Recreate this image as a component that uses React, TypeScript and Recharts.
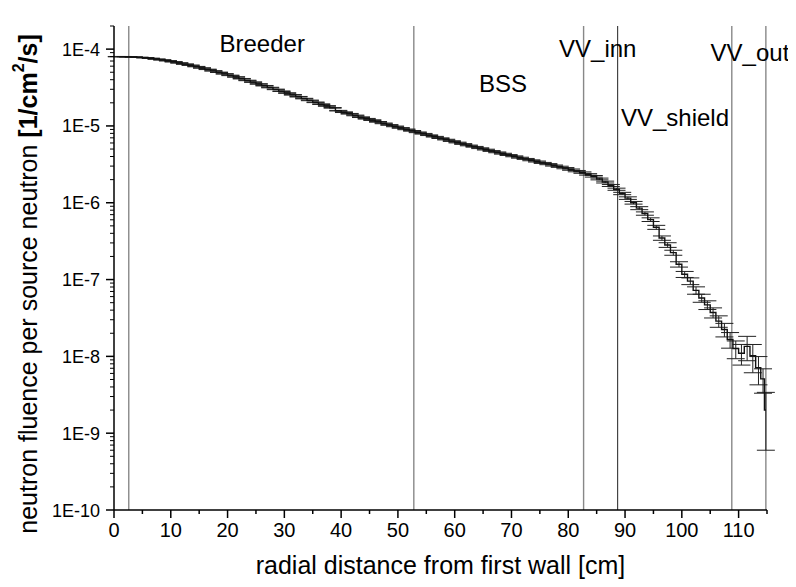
import { CartesianGrid, ErrorBar, Line, LineChart, ReferenceDot, ReferenceLine, XAxis, YAxis } from 'recharts';

// bin centres [cm] and fluence per source neutron [1/cm2/s]
const binCenters = [
  0.5, 1.5, 2.5, 3.5, 4.5, 5.5, 6.5, 7.5, 8.5, 9.5,
  10.5, 11.5, 12.5, 13.5, 14.5, 15.5, 16.5, 17.5, 18.5, 19.5,
  20.5, 21.5, 22.5, 23.5, 24.5, 25.5, 26.5, 27.5, 28.5, 29.5,
  30.5, 31.5, 32.5, 33.5, 34.5, 35.5, 36.5, 37.5, 38.5, 39.5,
  40.5, 41.5, 42.5, 43.5, 44.5, 45.5, 46.5, 47.5, 48.5, 49.5,
  50.5, 51.5, 52.5, 53.5, 54.5, 55.5, 56.5, 57.5, 58.5, 59.5,
  60.5, 61.5, 62.5, 63.5, 64.5, 65.5, 66.5, 67.5, 68.5, 69.5,
  70.5, 71.5, 72.5, 73.5, 74.5, 75.5, 76.5, 77.5, 78.5, 79.5,
  80.5, 81.5, 82.5, 83.5, 84.5, 85.5, 86.5, 87.5, 88.5, 89.5,
  90.5, 91.5, 92.5, 93.5, 94.5, 95.5, 96.5, 97.5, 98.5, 99.5,
  100.5, 101.5, 102.5, 103.5, 104.5, 105.5, 106.5, 107.5, 108.5, 109.5,
  110.5, 111.5, 112.5, 113.5, 114.3, 114.8,
];

const fluence = [
  7.98e-5, 7.98e-5, 7.94e-5, 7.89e-5, 7.82e-5, 7.71e-5, 7.59e-5, 7.41e-5, 7.24e-5, 7.05e-5,
  6.84e-5, 6.61e-5, 6.38e-5, 6.17e-5, 5.92e-5, 5.68e-5, 5.45e-5, 5.21e-5, 4.99e-5, 4.76e-5,
  4.55e-5, 4.34e-5, 4.12e-5, 3.91e-5, 3.72e-5, 3.52e-5, 3.34e-5, 3.16e-5, 2.99e-5, 2.83e-5,
  2.68e-5, 2.54e-5, 2.40e-5, 2.27e-5, 2.15e-5, 2.03e-5, 1.92e-5, 1.82e-5, 1.72e-5, 1.58e-5,
  1.51e-5, 1.44e-5, 1.37e-5, 1.30e-5, 1.24e-5, 1.19e-5, 1.13e-5, 1.08e-5, 1.03e-5, 9.86e-6,
  9.42e-6, 9.02e-6, 8.63e-6, 8.26e-6, 7.91e-6, 7.57e-6, 7.24e-6, 6.93e-6, 6.64e-6, 6.35e-6,
  6.08e-6, 5.82e-6, 5.57e-6, 5.35e-6, 5.13e-6, 4.92e-6, 4.72e-6, 4.53e-6, 4.35e-6, 4.18e-6,
  4.02e-6, 3.86e-6, 3.72e-6, 3.57e-6, 3.44e-6, 3.30e-6, 3.18e-6, 3.05e-6, 2.94e-6, 2.82e-6,
  2.70e-6, 2.58e-6, 2.47e-6, 2.34e-6, 2.21e-6, 2.04e-6, 1.86e-6, 1.68e-6, 1.50e-6, 1.32e-6,
  1.15e-6, 1.00e-6, 8.51e-7, 7.24e-7, 6.03e-7, 4.79e-7, 3.47e-7, 2.82e-7, 2.24e-7, 1.58e-7,
  1.17e-7, 9.55e-8, 7.24e-8, 5.75e-8, 4.68e-8, 3.72e-8, 2.88e-8, 2.24e-8, 1.66e-8, 1.26e-8,
  1.10e-8, 1.35e-8, 1.02e-8, 7.1e-9, 5.1e-9, 2.0e-9,
];

// relative statistical error of each bin
const relErr = [
  0.005, 0.005, 0.005, 0.005, 0.005, 0.005, 0.005, 0.005, 0.005, 0.005,
  0.005, 0.005, 0.005, 0.005, 0.006, 0.006, 0.006, 0.006, 0.006, 0.006,
  0.007, 0.007, 0.007, 0.007, 0.007, 0.007, 0.007, 0.008, 0.008, 0.008,
  0.008, 0.008, 0.008, 0.008, 0.009, 0.009, 0.009, 0.009, 0.009, 0.009,
  0.01, 0.01, 0.01, 0.01, 0.01, 0.01, 0.01, 0.01, 0.01, 0.01,
  0.01, 0.01, 0.01, 0.01, 0.01, 0.01, 0.01, 0.01, 0.01, 0.01,
  0.011, 0.011, 0.011, 0.011, 0.012, 0.012, 0.012, 0.012, 0.013, 0.013,
  0.013, 0.014, 0.014, 0.014, 0.015, 0.015, 0.016, 0.016, 0.017, 0.018,
  0.019, 0.02, 0.021, 0.022, 0.024, 0.026, 0.028, 0.03, 0.032, 0.035,
  0.038, 0.04, 0.045, 0.05, 0.055, 0.06, 0.065, 0.07, 0.075, 0.08,
  0.09, 0.1, 0.11, 0.12, 0.13, 0.15, 0.17, 0.2, 0.23, 0.26,
  0.3, 0.35, 0.4, 0.4, 0.35, 0.7,
];

// layer boundaries
const boundaries = [2.6, 52.8, 82.7, 88.7, 108.8, 114.8];
const boundaryColors = ['#888', '#888', '#888', '#222', '#888', '#888'];

const regionNames = ['Breeder', 'BSS', 'VV_inn', 'VV_shield', 'VV_out'];
const regionX = [26.1, 68.5, 85.2, 98.8, 112];
const regionY = [1.2e-4, 3.6e-5, 1.03e-4, 1.3e-5, 9.1e-5];

const xTicks = [0, 5, 10, 15, 20, 25, 30, 35, 40, 45, 50, 55, 60, 65, 70, 75, 80, 85, 90, 95, 100, 105, 110, 115];
const yMajor = [1e-10, 1e-9, 1e-8, 1e-7, 1e-6, 1e-5, 1e-4];
const yMinorFactors = [2, 3, 4, 5, 6, 7, 8, 9];
const yTickLabels = ['1E-10', '1E-9', '1E-8', '1E-7', '1E-6', '1E-5', '1E-4'];

const yTicks: number[] = [];
yMajor.forEach((m) => {
  yTicks.push(m);
  yMinorFactors.forEach((f) => {
    if (m * f <= 2e-4) yTicks.push(m * f);
  });
});

const data = binCenters.map((x, i) => ({
  x,
  flux: fluence[i],
  err: [fluence[i] * relErr[i], fluence[i] * relErr[i]],
}));

const FONT = '"Liberation Sans", Arial, sans-serif';

function XTick({ x, y, payload }: any) {
  const v = payload.value;
  const major = v % 10 === 0;
  return (
    <g>
      <line x1={x} x2={x} y1={y} y2={y + (major ? 8 : 4)} stroke="#000" strokeWidth={1.5} />
      {major && v <= 110 && (
        <text x={x} y={y + 27} textAnchor="middle" fontSize={20} fontFamily={'"Liberation Sans Narrow", ' + FONT} fill="#000">
          {v}
        </text>
      )}
    </g>
  );
}

function YTick({ x, y, payload }: any) {
  const v = payload.value;
  const idx = yMajor.findIndex((m) => Math.abs(v / m - 1) < 1e-6);
  const major = idx >= 0;
  return (
    <g>
      <line x1={x - (major ? 8 : 4)} x2={x} y1={y} y2={y} stroke="#000" strokeWidth={major ? 1.5 : 1} />
      {major && (
        <text x={x - 14} y={y + 6.5} textAnchor="end" fontSize={18} fontFamily={FONT} fill="#000">
          {yTickLabels[idx]}
        </text>
      )}
    </g>
  );
}

function YTitle({ viewBox }: any) {
  const cx = viewBox.x + 20;
  const cy = viewBox.y + viewBox.height / 2 + 16;
  return (
    <text transform={`translate(${cx},${cy}) rotate(-90)`} textAnchor="middle" dominantBaseline="central" fontSize={25} fontFamily={FONT} fill="#000">
      neutron fluence per source neutron{' '}
      <tspan fontWeight="bold">[1/cm</tspan>
      <tspan fontWeight="bold" fontSize={16} dy={-10}>2</tspan>
      <tspan fontWeight="bold" dy={10}>/s]</tspan>
    </text>
  );
}

function XTitle({ viewBox }: any) {
  return (
    <text x={viewBox.x + viewBox.width / 2} y={viewBox.y + 64} textAnchor="middle" fontSize={25} fontFamily={FONT} fill="#000">
      radial distance from first wall [cm]
    </text>
  );
}

export default function App() {
  return (
    <div style={{ width: 788, height: 579, fontFamily: FONT }}>
      <LineChart width={788} height={579} data={data} margin={{ top: 18, right: 29, bottom: 0, left: 0 }}>
        <CartesianGrid stroke="none" />
        <XAxis
          dataKey="x"
          type="number"
          domain={[0, 115]}
          ticks={xTicks}
          interval={0}
          height={77}
          tickSize={0}
          tickMargin={0}
          tick={<XTick />}
          axisLine={{ stroke: '#000', strokeWidth: 1.5 }}
          label={<XTitle />}
          allowDataOverflow
        />
        <YAxis
          type="number"
          scale="log"
          domain={[1e-10, 2e-4]}
          ticks={yTicks}
          interval={0}
          width={106}
          tickSize={0}
          tickMargin={0}
          tick={<YTick />}
          axisLine={{ stroke: '#000', strokeWidth: 1.5 }}
          label={<YTitle />}
          allowDataOverflow
        />
        {boundaries.map((b, i) => (
          <ReferenceLine key={b} x={b} stroke={boundaryColors[i]} strokeWidth={i === 3 ? 1 : 1.4} />
        ))}
        <Line
          dataKey="flux"
          type="step"
          stroke="#111"
          strokeWidth={1.4}
          dot={false}
          isAnimationActive={false}
        >
          <ErrorBar dataKey="err" width={9} stroke="#222" strokeWidth={1} direction="y" />
        </Line>
        {regionNames.map((name, i) => (
          <ReferenceDot
            key={name}
            x={regionX[i]}
            y={regionY[i]}
            r={0}
            fill="none"
            stroke="none"
            label={{ value: name, position: 'center', fontSize: 24, fill: '#000', fontFamily: FONT }}
          />
        ))}
      </LineChart>
    </div>
  );
}
